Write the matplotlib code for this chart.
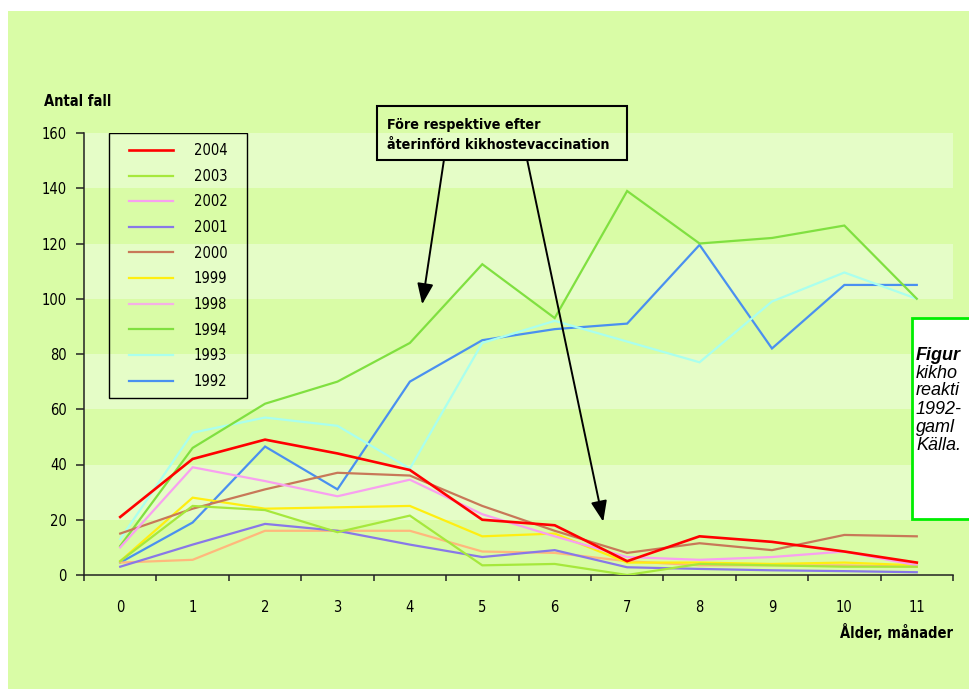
"""
Kikhosta: antal fall per åldersmånad, 1992-2004
"""

import numpy as np
import matplotlib
matplotlib.use("Agg")
import matplotlib.pyplot as plt
from matplotlib.patches import Rectangle

plt.rcParams['font.family'] = ['DejaVu Sans']
plt.rcParams['font.stretch'] = 'condensed'

age = list(range(12))
years = ['2004', '2003', '2002', '2001', '2000', '1999', '1998', '1994', '1993', '1992']

cases_2004 = [21, 42, 49, 44, 38, 20, 18, 5, 14, 12, 8.5, 4.5]
cases_2003 = [5, 25, 23.5, 15.5, 21.5, 3.5, 4, 0, 4, 3.5, 3, 3]
cases_2002 = [10, 39, 34, 28.5, 34.5, 22, 14, 6.5, 5.5, 6.5, 8.5, 3.5]
cases_2001 = [3, 11, 18.5, 16, 11, 6.5, 9, 2.8, 2.2, 1.7, 1.4, 1]
cases_2000 = [15, 24, 31, 37, 36, 25, 16, 8, 11.5, 9, 14.5, 14]
cases_1999 = [5, 28, 24, 24.5, 25, 14, 15, 4.5, 4.5, 4, 4.5, 3.5]
cases_1998 = [4.5, 5.5, 16, 16, 16, 8.5, 8, 5, 3.5, 3.5, 3.5, 3]
cases_1994 = [10.5, 46, 62, 70, 84, 112.5, 93, 139, 120, 122, 126.5, 100]
cases_1993 = [13, 51.5, 57, 54, 38.5, 84, 92, 84.5, 77, 99, 109.5, 100]
cases_1992 = [4.5, 19, 46.5, 31, 70, 85, 89, 91, 119.5, 82, 105, 105]

series = [cases_2004, cases_2003, cases_2002, cases_2001, cases_2000,
          cases_1999, cases_1998, cases_1994, cases_1993, cases_1992]
colors = ['#ff0000', '#a6e83c', '#f8a0f0', '#8878e8', '#c87858',
          '#ffee10', '#ffb87c', '#80e040', '#aaffee', '#4a90f0']
widths = [1.9, 1.6, 1.6, 1.6, 1.6, 1.6, 1.6, 1.6, 1.6, 1.6]

# caption box text as far as it shows before the page edge
caption = ['kikho', 'reakti', '1992-', 'gaml', 'Källa.']

bg_dark = '#d9fca6'
bg_light = '#e5fdc7'

W, H = 969, 689
fig = plt.figure(figsize=(W / 100, H / 100), dpi=100)
fig.patch.set_facecolor('white')
fig.add_artist(Rectangle((8 / W, 0), 1, 1 - 11 / H, transform=fig.transFigure,
                         facecolor=bg_dark, edgecolor='none', zorder=-10))

ax = fig.add_axes([84 / W, 1 - 575 / H, 869 / W, 442 / H])
ax.set_facecolor(bg_dark)
ax.set_xlim(-0.5, 11.5)
ax.set_ylim(0, 160)

# alternating bands, lighter on top
for lo in range(0, 160, 20):
    if (lo // 20) % 2 == 1:
        ax.axhspan(lo, lo + 20, color=bg_light, lw=0, zorder=0)

handles = {}
for yr, vals, c, lw in reversed(list(zip(years, series, colors, widths))):
    ln, = ax.plot(age, vals, color=c, lw=lw, label=yr, zorder=3,
                  solid_joinstyle='miter')
    handles[yr] = ln

for s in ['top', 'right']:
    ax.spines[s].set_visible(False)
for s in ['left', 'bottom']:
    ax.spines[s].set_color('#222222')
    ax.spines[s].set_linewidth(1.1)

ax.set_yticks(range(0, 161, 20))
ax.set_xticks(age)
ax.set_xticks(np.arange(-0.5, 12, 1), minor=True)
ax.tick_params(axis='x', which='major', length=0, pad=18, labelsize=10.5)
ax.tick_params(axis='x', which='minor', length=4.5, width=1.1, color='#222222')
ax.tick_params(axis='y', length=5.8, width=1.1, color='#222222', pad=6.5,
               labelsize=10.5)

# legend entries without frame, frame drawn separately
leg = ax.legend([handles[y] for y in years], years, loc='upper left',
                bbox_to_anchor=((129 - 84) / 869, (575 - 143) / 442),
                borderaxespad=0, borderpad=0, frameon=False, fontsize=10.5,
                handlelength=3.0, handletextpad=1.45, labelspacing=0.73)
leg.get_lines()[6].set_color('#f5b0e6')
ax.add_patch(Rectangle(((109 - 84) / 869, (575 - 398) / 442),
                       138 / 869, 265 / 442, transform=ax.transAxes,
                       fill=False, edgecolor='black', lw=1.0, zorder=4))

fig.text(44 / W, 1 - 101 / H, 'Antal fall', fontsize=10.5, fontweight='bold',
         va='center', ha='left')
fig.text(953 / W, 1 - 633 / H, 'Ålder, månader', fontsize=10.5,
         fontweight='bold', va='center', ha='right')

# annotation box with arrows
ax.add_patch(Rectangle((3.55, 150.2), 3.45, 19.6, fill=False, lw=1.5,
                       edgecolor='black', clip_on=False, zorder=5))
ax.text(3.69, 159.2, 'Före respektive efter\nåterinförd kikhostevaccination',
        fontsize=10.3, fontweight='bold', va='center', ha='left',
        linespacing=1.5, zorder=6)
arrow = dict(arrowstyle='-|>,head_length=0.9,head_width=0.35', lw=1.4,
             color='black', mutation_scale=14, shrinkA=0, shrinkB=0)
ax.annotate('', xy=(4.17, 98), xytext=(4.47, 150.2), arrowprops=arrow,
            annotation_clip=False, zorder=6)
ax.annotate('', xy=(6.67, 19.3), xytext=(5.62, 150.2), arrowprops=arrow,
            annotation_clip=False, zorder=6)

# figure caption box, cut off at the right edge
fig.add_artist(Rectangle((912 / W, 1 - 519 / H), 0.2, 201 / H,
                         transform=fig.transFigure, facecolor='white',
                         edgecolor='#00ee00', lw=2, zorder=5))
cap_font = ['Liberation Sans', 'DejaVu Sans']
fig.text(916 / W, 1 - 355 / H, 'Figur', fontsize=13, fontweight='bold',
         fontstyle='italic', family=cap_font, stretch='normal',
         va='center', zorder=6)
for i, line in enumerate(caption):
    fig.text(916 / W, 1 - (373 + 18 * i) / H, line, fontsize=13,
             fontstyle='italic', family=cap_font, stretch='normal',
             va='center', zorder=6)

fig.savefig('out.png', dpi=100)
